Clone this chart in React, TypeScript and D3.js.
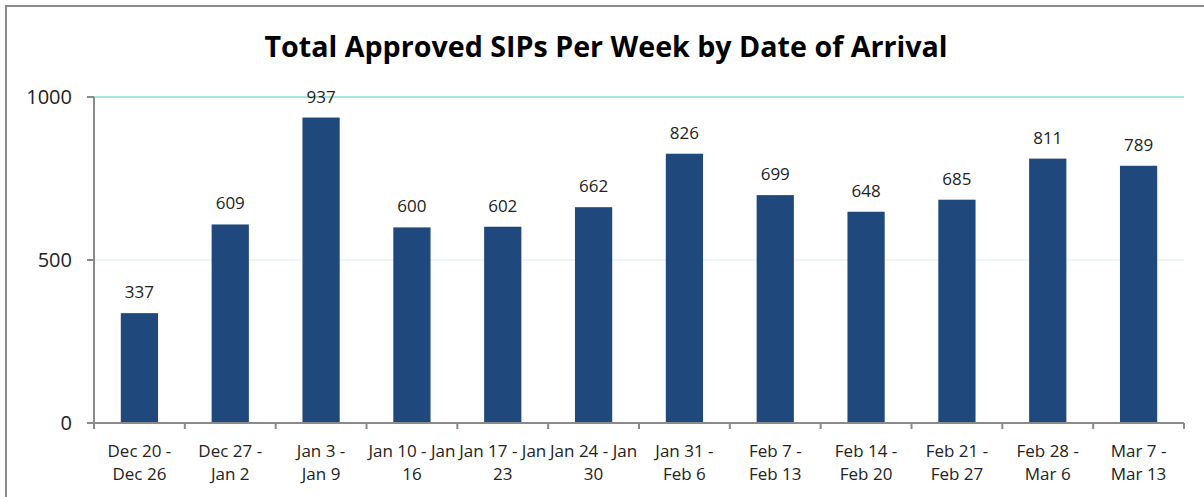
import { useEffect, useRef } from 'react';
import * as d3 from 'd3';

const weekLines: string[][] = [
  ['Dec 20 -', 'Dec 26'],
  ['Dec 27 -', 'Jan 2'],
  ['Jan 3 -', 'Jan 9'],
  ['Jan 10 - Jan', '16'],
  ['Jan 17 - Jan', '23'],
  ['Jan 24 - Jan', '30'],
  ['Jan 31 -', 'Feb 6'],
  ['Feb 7 -', 'Feb 13'],
  ['Feb 14 -', 'Feb 20'],
  ['Feb 21 -', 'Feb 27'],
  ['Feb 28 -', 'Mar 6'],
  ['Mar 7 -', 'Mar 13'],
];
const approved = [337, 609, 937, 600, 602, 662, 826, 699, 648, 685, 811, 789];
const yTicks = [0, 500, 1000];

export default function App() {
  const svgRef = useRef<SVGSVGElement>(null);

  useEffect(() => {
    if (!svgRef.current) return;
    const svg = d3.select(svgRef.current);
    svg.selectAll('*').remove();

    const width = 1204;
    const height = 497;
    const margin = { top: 97, right: 20, bottom: 74, left: 94 };
    const innerWidth = 1184 - margin.left;
    const innerHeight = height - margin.top - margin.bottom;

    svg.attr('width', width).attr('height', height);

    // outer chart frame (only top and left visible)
    svg.append('path')
      .attr('d', `M6,${height} L6,6 L${width},6`)
      .attr('fill', 'none')
      .attr('stroke', '#8a8a8a')
      .attr('stroke-width', 2);

    svg.append('text')
      .attr('x', 606)
      .attr('y', 57)
      .attr('text-anchor', 'middle')
      .attr('textLength', 683)
      .attr('lengthAdjust', 'spacingAndGlyphs')
      .style('font-family', '"Open Sans", sans-serif')
      .style('font-weight', 700)
      .style('font-size', '28px')
      .style('fill', '#000')
      .text('Total Approved SIPs Per Week by Date of Arrival');

    const g = svg.append('g').attr('transform', `translate(${margin.left},${margin.top})`);

    const x = d3.scaleBand<number>()
      .domain(d3.range(approved.length))
      .range([0, innerWidth])
      .paddingInner(0.59)
      .paddingOuter(0.295);

    const xTick = d3.scaleLinear().domain([0, approved.length]).range([0, innerWidth]);

    const y = d3.scaleLinear().domain([0, 1000]).range([innerHeight, 0]);

    // grid lines
    g.selectAll('.grid')
      .data(yTicks.filter(t => t > 0))
      .enter().append('line')
      .attr('x1', 0)
      .attr('x2', innerWidth)
      .attr('y1', d => y(d))
      .attr('y2', d => y(d))
      .attr('stroke', d => (d === 1000 ? '#a6e6de' : '#e2f6f3'))
      .attr('stroke-width', d => (d === 1000 ? 2 : 1.5));

    // bars
    g.selectAll('.bar')
      .data(approved)
      .enter().append('rect')
      .attr('x', (_, i) => x(i)!)
      .attr('y', d => y(d))
      .attr('width', x.bandwidth())
      .attr('height', d => innerHeight - y(d))
      .attr('fill', '#1f497d');

    // value labels
    g.selectAll('.val')
      .data(approved)
      .enter().append('text')
      .attr('x', (_, i) => x(i)! + x.bandwidth() / 2)
      .attr('y', d => y(d) - 15)
      .attr('text-anchor', 'middle')
      .style('font-family', '"Open Sans", sans-serif')
      .style('font-size', '17px')
      .style('fill', '#222')
      .text(d => d);

    // y axis
    const axisColor = '#8a8a8a';
    g.append('line')
      .attr('x1', 0).attr('x2', 0)
      .attr('y1', 0).attr('y2', innerHeight)
      .attr('stroke', axisColor).attr('stroke-width', 2);
    g.selectAll('.ytick')
      .data(yTicks)
      .enter().append('line')
      .attr('x1', -7).attr('x2', 0)
      .attr('y1', d => y(d)).attr('y2', d => y(d))
      .attr('stroke', axisColor).attr('stroke-width', 2);
    g.selectAll('.ylab')
      .data(yTicks)
      .enter().append('text')
      .attr('x', -22)
      .attr('y', d => y(d))
      .attr('dy', '0.35em')
      .attr('text-anchor', 'end')
      .style('font-family', '"Open Sans", sans-serif')
      .style('font-size', '20px')
      .style('fill', '#222')
      .text(d => d);

    // x axis
    g.append('line')
      .attr('x1', 0).attr('x2', innerWidth)
      .attr('y1', innerHeight).attr('y2', innerHeight)
      .attr('stroke', axisColor).attr('stroke-width', 2);
    g.selectAll('.xtick')
      .data(d3.range(approved.length + 1))
      .enter().append('line')
      .attr('x1', d => xTick(d)).attr('x2', d => xTick(d))
      .attr('y1', innerHeight).attr('y2', innerHeight + 6)
      .attr('stroke', axisColor).attr('stroke-width', 2);

    const labels = g.selectAll('.xlab')
      .data(weekLines)
      .enter().append('text')
      .attr('text-anchor', 'middle')
      .style('font-family', '"Open Sans", sans-serif')
      .style('font-size', '17px')
      .style('fill', '#222');
    labels.each(function (lines, i) {
      const t = d3.select(this);
      lines.forEach((ln, k) => {
        t.append('tspan')
          .attr('x', x(i)! + x.bandwidth() / 2)
          .attr('y', innerHeight + 34 + k * 23)
          .text(ln);
      });
    });
  }, []);

  return (
    <div style={{ width: 1204, height: 497, background: '#fff' }}>
      <svg ref={svgRef} style={{ display: 'block', position: 'absolute', left: 0, top: 0 }}></svg>
    </div>
  );
}
